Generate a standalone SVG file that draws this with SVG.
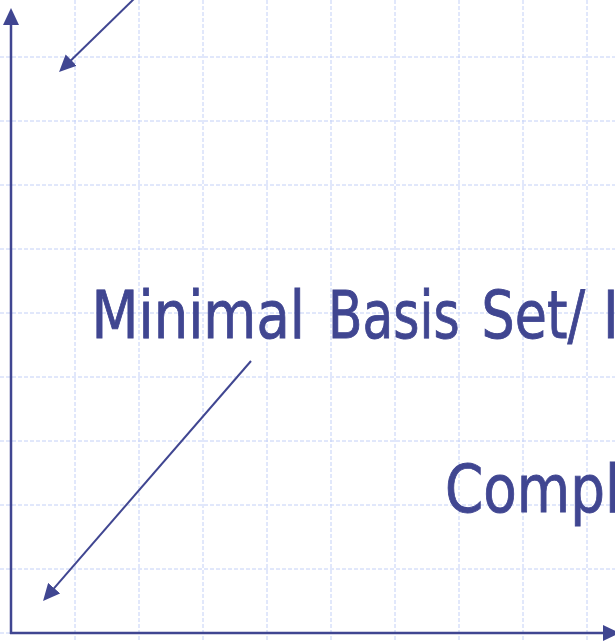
<svg xmlns="http://www.w3.org/2000/svg" width="615" height="641" viewBox="0 0 615 641">
  <style>
    .grid line { stroke: #c3d0f7; stroke-width: 1; stroke-dasharray: 4 2; }
    .ax { stroke: #404691; stroke-width: 2.5; fill: none; }
    .con { stroke: #404691; stroke-width: 2; fill: none; }
    .lbl { font-family: "DejaVu Sans", Verdana, sans-serif; font-size: 65px; fill: #404691; stroke: #404691; stroke-width: 0.9; }
  </style>
  <defs>
    <marker id="ah" viewBox="0 0 17 16" refX="7" refY="8" markerWidth="17" markerHeight="16" markerUnits="userSpaceOnUse" orient="auto">
      <path d="M0,0 L17,8 L0,16 z" fill="#404691"/>
    </marker>
  </defs>
  <rect width="615" height="641" fill="#ffffff"/>
  <g id="grid" class="grid">
    <line x1="75" y1="0" x2="75" y2="641"/>
    <line x1="139" y1="0" x2="139" y2="641"/>
    <line x1="203" y1="0" x2="203" y2="641"/>
    <line x1="267" y1="0" x2="267" y2="641"/>
    <line x1="331" y1="0" x2="331" y2="641"/>
    <line x1="395" y1="0" x2="395" y2="641"/>
    <line x1="459" y1="0" x2="459" y2="641"/>
    <line x1="523" y1="0" x2="523" y2="641"/>
    <line x1="587" y1="0" x2="587" y2="641"/>
    <line x1="0" y1="57" x2="615" y2="57"/>
    <line x1="0" y1="121" x2="615" y2="121"/>
    <line x1="0" y1="185" x2="615" y2="185"/>
    <line x1="0" y1="249" x2="615" y2="249"/>
    <line x1="0" y1="313" x2="615" y2="313"/>
    <line x1="0" y1="377" x2="615" y2="377"/>
    <line x1="0" y1="441" x2="615" y2="441"/>
    <line x1="0" y1="505" x2="615" y2="505"/>
    <line x1="0" y1="569" x2="615" y2="569"/>
    <line x1="0" y1="633" x2="615" y2="633"/>
  </g>
  <g id="axes">
    <line class="ax" x1="11" y1="634" x2="11" y2="18" marker-end="url(#ah)"/>
    <line class="ax" x1="10" y1="633" x2="610" y2="633" marker-end="url(#ah)"/>
  </g>
  <g id="connectors">
    <line class="con" x1="138" y1="-5" x2="66.2" y2="65" marker-end="url(#ah)"/>
    <line class="con" x1="251" y1="361" x2="49.6" y2="593.4" marker-end="url(#ah)"/>
  </g>
  <g id="label-minimal">
    <text class="lbl" transform="translate(91.6,338) scale(0.838,1)">Minimal</text>
    <text class="lbl" transform="translate(328.1,338) scale(0.773,1)">Basis</text>
    <text class="lbl" transform="translate(481.6,338) scale(0.804,1)">Set/</text>
    <text class="lbl" transform="translate(603,338) scale(0.82,1)">I</text>
  </g>
  <g id="label-compl">
    <text class="lbl" transform="translate(445,512) scale(0.843,1)">Compl</text>
  </g>
</svg>
